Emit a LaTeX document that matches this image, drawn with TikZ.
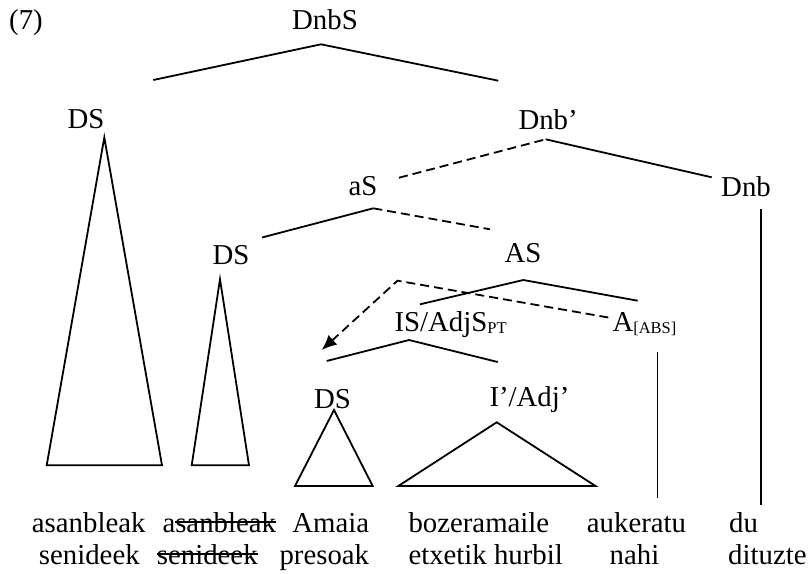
\documentclass[tikz,border=0pt]{standalone}
\usepackage{fontspec}
\setmainfont{Liberation Serif}
\usetikzlibrary{arrows.meta}
\newcommand\strk[1]{\sbox0{#1}\rlap{\rule[0.34em]{\wd0}{0.06em}}\usebox0}
\newcommand\subsc[1]{\raisebox{-2.2pt}{\fontsize{16.5}{16.5}\selectfont #1}}
\begin{document}
\begin{tikzpicture}[x=1pt,y=-1pt,
  lbl/.style={font=\fontsize{28.8}{33}\selectfont, inner sep=0pt, anchor=base},
  lblw/.style={lbl, anchor=base west},
  lble/.style={lbl, anchor=base east},
  edge/.style={line width=1.8pt, line cap=butt},
  dsh/.style={edge, dash pattern=on 9pt off 5pt},
  tri/.style={line width=1.8pt, line join=miter}]
\useasboundingbox (0,0) rectangle (808,573);
% labels
\node[lblw] (n7) at (9,29) {(7)};
\node[lbl] (dnbs) at (325,29) {DnbS};
\node[lbl] (ds1) at (86,128) {DS};
\node[lblw] (dnbp) at (518.3,129.3) {Dnb’};
\node[lbl] (as) at (363,195) {aS};
\node[lbl] (dnb) at (746,196) {Dnb};
\node[lbl] (ds2) at (231,264) {DS};
\node[lbl] (AS) at (523,262.5) {AS};
\node[lblw] (is) at (394.3,331) {IS/AdjS\subsc{PT}};
\node[lblw] (a) at (612.3,331.5) {A\subsc{[ABS]}};
\node[lbl] (ds3) at (332.5,408) {DS};
\node[lblw] (ip) at (489.3,406.7) {I’/Adj’};
% coordinates
\coordinate (dnbsL) at (153.3,80);
\coordinate (dnbsT) at (321,44.3);
\coordinate (dnbsR) at (498.3,80.7);
\coordinate (dnbpL) at (399,177.7);
\coordinate (dnbpT) at (545.7,139.3);
\coordinate (dnbpR) at (711.7,177.3);
\coordinate (asL) at (262,237.5);
\coordinate (asT) at (373.3,208.3);
\coordinate (asR) at (490,229.3);
\coordinate (ASL) at (420,304.3);
\coordinate (AST) at (523.3,280);
\coordinate (ASR) at (637.7,300.7);
\coordinate (mvS) at (608.3,317.5);
\coordinate (mvC) at (397.5,280.7);
\coordinate (mvE) at (321.7,350);
\coordinate (isL) at (326.7,361);
\coordinate (isT) at (409,340);
\coordinate (isR) at (497.7,362);
\coordinate (aT) at (657.5,351.7);
\coordinate (aB) at (657.5,497.5);
\coordinate (dnbT) at (761,209);
\coordinate (dnbB) at (761,505);
% branches
\draw[edge] (dnbsL) -- (dnbsT) -- (dnbsR);
\draw[dsh] (dnbpL) -- (dnbpT);
\draw[edge] (dnbpT) -- (dnbpR);
\draw[edge] (asL) -- (asT);
\draw[dsh] (asT) -- (asR);
\draw[edge] (ASL) -- (AST) -- (ASR);
\draw[dsh, -{Latex[length=15pt,width=13pt]}] (mvS) -- (mvC) -- (mvE);
\draw[edge] (isL) -- (isT) -- (isR);
\draw[edge] (aT) -- (aB);
\draw[edge] (dnbT) -- (dnbB);
% triangles
\draw[tri] (104.3,137.5) coordinate (t1) -- (162,465.3) -- (46.7,465.3) -- cycle;
\draw[tri] (220,279.3) coordinate (t2) -- (249,465.3) -- (191.7,465.3) -- cycle;
\draw[tri] (334,410) coordinate (t3) -- (372.7,486) -- (295,486) -- cycle;
\draw[tri] (496.7,422.3) coordinate (t4) -- (595.5,486) -- (398.3,486) -- cycle;
% words
\node[lbl] (w1a) at (88.7,532.5) {asanbleak};
\node[lbl] (w1b) at (89.3,564.5) {senideek};
\node[lblw] (w2a) at (162.3,532.5) {a\strk{sanbleak}};
\node[lblw] (w2b) at (156.7,564.5) {\strk{senideek}};
\node[lble] (w3a) at (369.3,532.5) {Amaia};
\node[lble] (w3b) at (369.3,564.5) {presoak};
\node[lblw] (w4a) at (408.3,532.5) {bozeramaile};
\node[lblw] (w4b) at (408.3,564.5) {etxetik hurbil};
\node[lbl] (w5a) at (636.5,532.5) {aukeratu};
\node[lbl] (w5b) at (634.5,564.5) {nahi};
\node[lblw] (w6a) at (729,532.5) {du};
\node[lblw] (w6b) at (728,564.5) {dituzte};
\end{tikzpicture}
\end{document}
